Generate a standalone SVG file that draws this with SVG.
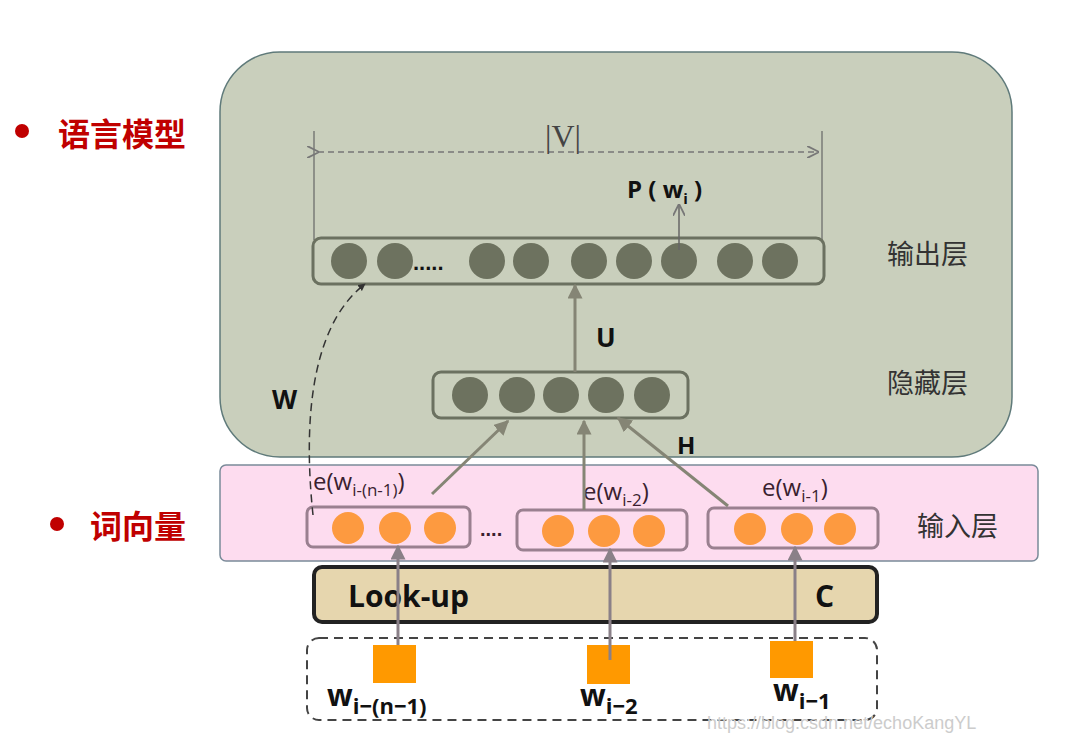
<svg xmlns="http://www.w3.org/2000/svg" width="1069" height="737" viewBox="0 0 1069 737">
<defs>
<style>
.g{fill:#6d725f}
.o{fill:#fd9a40}
.sq{fill:#ff9900}
.lab{font-family:"Open Sans","Liberation Sans",sans-serif;font-weight:bold;fill:#111}
.el{font-family:"Open Sans","Liberation Sans",sans-serif;font-size:24px;fill:#3a1f30}
.cn{font-family:"Noto Sans CJK SC",sans-serif;font-size:27px;fill:#333}
.red{font-family:"Noto Sans CJK SC",sans-serif;font-size:32px;font-weight:bold;fill:#c00000}
.ar{stroke:#858575;stroke-width:3;fill:none;marker-end:url(#ah)}
.ar2{stroke:#8a8088;stroke-width:3;fill:none;marker-end:url(#ah2)}
</style>
<marker id="ah" viewBox="0 0 10 10" refX="9" refY="5" markerWidth="5" markerHeight="5" orient="auto"><path d="M0,0L10,5L0,10z" fill="#858575"/></marker>
<marker id="ah2" viewBox="0 0 10 10" refX="9" refY="5" markerWidth="5" markerHeight="5" orient="auto"><path d="M0,0L10,5L0,10z" fill="#8a8088"/></marker>
<marker id="op" viewBox="0 0 10 10" refX="9" refY="5" markerWidth="8" markerHeight="8" orient="auto"><path d="M0,0L10,5L0,10" fill="none" stroke="#777" stroke-width="1.5"/></marker>
<marker id="dh" viewBox="0 0 10 10" refX="9" refY="5" markerWidth="5" markerHeight="5" orient="auto"><path d="M0,0L10,5L0,10z" fill="#333"/></marker>
</defs>
<rect width="1069" height="737" fill="#fff"/>
<g id="lm-panel"><rect x="220" y="52" width="792" height="405" rx="60" fill="#c9cfbc" stroke="#5f7a7a" stroke-width="1.5"/></g>
<g id="input-band"><rect x="220" y="465" width="818" height="96" rx="6" fill="#fddcef" stroke="#7a8a99" stroke-width="1.5"/></g>
<g id="labels-left">
<circle cx="22" cy="131" r="7" fill="#c00000"/><text x="58" y="146" class="red">语言模型</text>
<circle cx="57" cy="524" r="7" fill="#c00000"/><text x="90" y="538" class="red">词向量</text>
</g>
<g id="labels-right">
<text x="887" y="264" class="cn">输出层</text>
<text x="887" y="393" class="cn">隐藏层</text>
<text x="917" y="536" class="cn">输入层</text>
</g>
<g id="vsize">
<line x1="314" y1="131" x2="314" y2="240" stroke="#666" stroke-width="1.2"/>
<line x1="822" y1="131" x2="822" y2="240" stroke="#666" stroke-width="1.2"/>
<line x1="318" y1="152" x2="818" y2="152" stroke="#777" stroke-width="1.5" stroke-dasharray="6,4" marker-start="url(#op)" marker-end="url(#op)"/>
<text x="563" y="147" font-family="Liberation Serif,serif" font-size="32" fill="#444" text-anchor="middle">|V|</text>
</g>
<g id="output-layer">
<rect x="313" y="238" width="511" height="46" rx="8" fill="none" stroke="#6b7160" stroke-width="3"/>
<circle class="g" cx="349" cy="261" r="18"/><circle class="g" cx="395" cy="261" r="18"/>
<text x="413" y="270" font-family="Liberation Sans,sans-serif" font-size="22" font-weight="bold" fill="#111">.....</text>
<circle class="g" cx="487" cy="261" r="18"/><circle class="g" cx="531" cy="261" r="18"/><circle class="g" cx="589" cy="261" r="18"/><circle class="g" cx="634" cy="261" r="18"/><circle class="g" cx="679" cy="261" r="18"/><circle class="g" cx="735" cy="261" r="18"/><circle class="g" cx="780" cy="261" r="18"/>
<text x="627" y="198" class="lab" font-size="24">P ( w<tspan font-size="15" dy="6">i</tspan><tspan dy="-6"> )</tspan></text>
</g>
<g id="hidden-layer">
<rect x="433" y="372" width="255" height="46" rx="8" fill="none" stroke="#6b7160" stroke-width="3"/>
<circle class="g" cx="470" cy="395" r="18"/><circle class="g" cx="517" cy="395" r="18"/><circle class="g" cx="561" cy="395" r="18"/><circle class="g" cx="606" cy="395" r="18"/><circle class="g" cx="652" cy="395" r="18"/>
</g>
<g id="input-vectors">
<rect x="307" y="507" width="163" height="40" rx="6" fill="none" stroke="#9a8090" stroke-width="3"/>
<circle class="o" cx="348" cy="528" r="16"/><circle class="o" cx="395" cy="528" r="16"/><circle class="o" cx="440" cy="528" r="16"/>
<text x="480" y="536" font-family="Liberation Sans,sans-serif" font-size="20" font-weight="bold" fill="#3a1f30">....</text>
<rect x="517" y="510" width="170" height="40" rx="6" fill="none" stroke="#9a8090" stroke-width="3"/>
<circle class="o" cx="558" cy="531" r="16"/><circle class="o" cx="604" cy="531" r="16"/><circle class="o" cx="649" cy="531" r="16"/>
<rect x="708" y="508" width="170" height="40" rx="6" fill="none" stroke="#9a8090" stroke-width="3"/>
<circle class="o" cx="750" cy="529" r="16"/><circle class="o" cx="797" cy="529" r="16"/><circle class="o" cx="840" cy="529" r="16"/>
<text x="313" y="490" class="el">e(w<tspan font-size="17" dy="6">i-(n-1)</tspan><tspan dy="-6">)</tspan></text>
<text x="583" y="500" class="el">e(w<tspan font-size="17" dy="6">i-2</tspan><tspan dy="-6">)</tspan></text>
<text x="762" y="496" class="el">e(w<tspan font-size="17" dy="6">i-1</tspan><tspan dy="-6">)</tspan></text>
</g>
<g id="lookup">
<rect x="314" y="567" width="563" height="55" rx="8" fill="#e6d6ae" stroke="#222" stroke-width="4"/>
<text x="348" y="607" class="lab" font-size="30">Look-up</text>
<text x="815" y="607" class="lab" font-size="30">C</text>
</g>
<g id="words">
<rect x="307" y="638" width="570" height="82" rx="12" fill="none" stroke="#444" stroke-width="2" stroke-dasharray="9,6"/>
<rect class="sq" x="373" y="645" width="43" height="38"/>
<rect class="sq" x="587" y="645" width="43" height="39"/>
<rect class="sq" x="770" y="641" width="43" height="37"/>
<text x="327" y="706" class="lab" font-size="30">w<tspan font-size="22" dy="8">i−(n−1)</tspan></text>
<text x="580" y="706" class="lab" font-size="30">w<tspan font-size="22" dy="8">i−2</tspan></text>
<text x="773" y="701" class="lab" font-size="30">w<tspan font-size="22" dy="8">i−1</tspan></text>
</g>
<g id="connectors">
<line class="ar2" x1="398" y1="645" x2="398" y2="546"/>
<line class="ar2" x1="610" y1="660" x2="610" y2="549"/>
<line class="ar2" x1="795" y1="641" x2="795" y2="547"/>
<line class="ar" x1="432" y1="494" x2="508" y2="421"/>
<line class="ar" x1="584" y1="510" x2="584" y2="421"/>
<line class="ar" x1="728" y1="506" x2="618" y2="418"/>
<line class="ar" x1="575" y1="372" x2="575" y2="285"/>
<line x1="679" y1="250" x2="679" y2="205" stroke="#666" stroke-width="1.5" marker-end="url(#op)"/>
<path d="M313,515 C305,440 305,330 365,284" fill="none" stroke="#333" stroke-width="1.5" stroke-dasharray="8,5" marker-end="url(#dh)"/>
<text x="272" y="409" class="lab" font-size="26">W</text>
<text x="596" y="347" class="lab" font-size="26">U</text>
<text x="677" y="454" class="lab" font-size="24">H</text>
</g>
<text x="707" y="729" font-family="Liberation Sans,sans-serif" font-size="18" fill="#ccc">https://blog.csdn.net/echoKangYL</text>
</svg>
